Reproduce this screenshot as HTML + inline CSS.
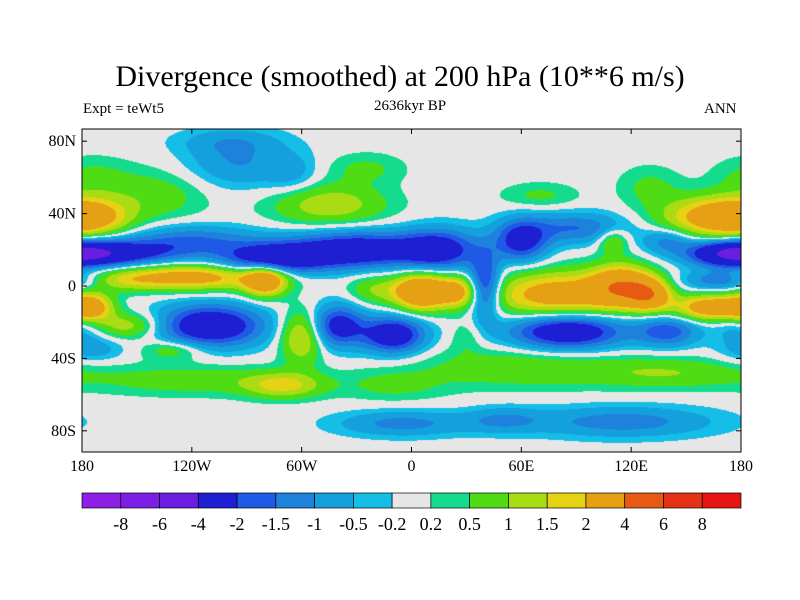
<!DOCTYPE html>
<html><head><meta charset="utf-8"><style>
body{margin:0;background:#fff;width:800px;height:600px;overflow:hidden;position:relative;font-family:"Liberation Serif",serif}
.t{position:absolute;white-space:nowrap;color:#000}
</style></head><body>
<div class="t" style="left:0;width:800px;text-align:center;top:60px;font-size:30px">Divergence (smoothed) at 200 hPa (10**6 m/s)</div>
<div class="t" style="left:83px;top:101px;font-size:15px">Expt = teWt5</div>
<div class="t" style="left:0;width:820px;text-align:center;top:98px;font-size:15px">2636kyr BP</div>
<div class="t" style="left:704px;top:101px;font-size:15px">ANN</div>
<canvas id="map" width="659" height="323" style="position:absolute;left:82px;top:129px"></canvas>
<svg id="ov" width="800" height="600" style="position:absolute;left:0;top:0"></svg>
<script>
const levels=[-8,-6,-4,-2,-1.5,-1,-0.5,-0.2,0.2,0.5,1,1.5,2,4,6,8];
const colors=["#8c1ee6","#7d1ee6","#6a1ee0","#1e1ed2","#1e5ae6","#1e82dc","#14a0dc","#14bee6","#e6e6e6","#14dc8c","#50dc14","#aadc14","#e6d214","#e6a014","#e65a14","#e63214","#e61414"];
const cbLabels=["-8","-6","-4","-2","-1.5","-1","-0.5","-0.2","0.2","0.5","1","1.5","2","4","6","8"];
const xTicks=[-180,-120,-60,0,60,120,180];
const xTickLabels=["180","120W","60W","0","60E","120E","180"];
const yTicks=[80,40,0,-40,-80];
const yTickLabels=["80N","40N","0","40S","80S"];
// blobs: lon, lat, sigma lon, sigma lat, amplitude
const blobLon=[-95,-65,-175,-140,-175,-45,-25,70,165,130,110,-165,-120,-75,-30,15,40,60,90,175,140,-120,-80,-160,5,25,-20,80,115,130,165,-175,-155,-130,-60,30,-110,-40,-10,85,140,-180,-175,-120,-70,60,140,-10,-5,50,115,-100,170];
const blobLat=[68,62,60,50,38,45,65,50,38,55,25,18,25,15,20,20,0,25,32,18,25,5,3,3,-3,-3,-2,-5,0,-5,-12,-12,-22,-35,-28,-28,-22,-22,-27,-25,-25,-22,-35,-52,-55,-45,-48,-55,-76,-74,-75,80,3];
const blobSx=[20,10,15,20,15,22,15,15,20,12,6,25,25,20,25,15,6,10,20,15,10,30,8,15,10,8,10,25,12,8,15,8,15,12,8,6,20,10,12,22,12,10,12,40,15,40,30,20,25,15,35,20,15];
const blobSy=[10,8,8,10,7,8,6,5,8,8,5,5,6,6,7,8,12,8,6,5,5,5,6,4,7,6,6,9,8,6,5,6,5,4,10,6,8,8,7,7,6,6,5,6,5,8,6,6,5,5,6,5,4];
const blobAmp=[-1.0,-0.6,0.6,0.8,1.8,1.4,0.6,0.6,2.5,0.6,1.2,-2.8,-1.5,-3,-3,-2.5,-2.5,-2.5,-1.5,-3,-1.2,2.6,3.0,0.8,3.8,2.2,1.0,2.7,3.2,2.8,3.0,2.2,1.4,1.0,1.8,0.5,-3.2,-2.5,-3,-3.2,-1.8,-1.0,-0.8,0.8,1.5,0.9,0.9,0.6,-1.2,-0.9,-1.3,-0.6,-1.5];
const X0=82,X1=741,Y0=129,Y1=452;
const xs=lon=>X0+(lon+180)/360*(X1-X0);
const ys=lat=>286-lat*1.81;
function colorFor(v){let i=0;while(i<levels.length&&v>=levels[i])i++;return colors[i];}
const cv=document.getElementById('map'),cx=cv.getContext('2d');
const cell=1;
for(let py=0;py<323;py+=cell){const lat=(286-(py+Y0+0.5))/1.81;
 for(let px=0;px<659;px+=cell){const lon=(px+0.5)/659*360-180;let v=0;
  for(let k=0;k<blobLon.length;k++){let dl=lon-blobLon[k];if(dl>180)dl-=360;if(dl<-180)dl+=360;
   const d=dl*dl/(2*blobSx[k]*blobSx[k])+(lat-blobLat[k])**2/(2*blobSy[k]*blobSy[k]);if(d<12)v+=blobAmp[k]*Math.exp(-d);}
  cx.fillStyle=colorFor(v);cx.fillRect(px,py,cell,cell);}}
const ov=document.getElementById('ov'),NS='http://www.w3.org/2000/svg';
function mk(t,a){const e=document.createElementNS(NS,t);for(const k in a)e.setAttribute(k,a[k]);ov.appendChild(e);return e;}
const fr=mk('rect',{x:X0,y:Y0,width:X1-X0,height:Y1-Y0,fill:'none',stroke:'#000','stroke-width':1});


xTicks.forEach((t,i)=>{const x=xs(t);
 mk('line',{x1:x,x2:x,y1:Y1,y2:Y1-5,stroke:'#000'});mk('line',{x1:x,x2:x,y1:Y0,y2:Y0+5,stroke:'#000'});
 const tx=mk('text',{x:x,y:Y1+19,'text-anchor':'middle','font-size':16,'font-family':'Liberation Serif,serif'});tx.textContent=xTickLabels[i];
 
 });
yTicks.forEach((t,i)=>{const y=ys(t);
 mk('line',{x1:X0,x2:X0+5,y1:y,y2:y,stroke:'#000'});mk('line',{x1:X1,x2:X1-5,y1:y,y2:y,stroke:'#000'});
 const tx=mk('text',{x:X0-6,y:y+5,'text-anchor':'end','font-size':16,'font-family':'Liberation Serif,serif'});tx.textContent=yTickLabels[i];
 
 });
const CB0=82,CB1=741,CBY=493,CBH=15,bw=(CB1-CB0)/colors.length;
colors.forEach((c,i)=>{const r=mk('rect',{x:CB0+i*bw,y:CBY,width:bw,height:CBH,fill:c,stroke:'#000','stroke-width':0.7});
 
 });
cbLabels.forEach((l,i)=>{const tx=mk('text',{x:CB0+(i+1)*bw,y:CBY+CBH+22,'text-anchor':'middle','font-size':18,'font-family':'Liberation Serif,serif'});tx.textContent=l;
 
 });
</script>
</body></html>
